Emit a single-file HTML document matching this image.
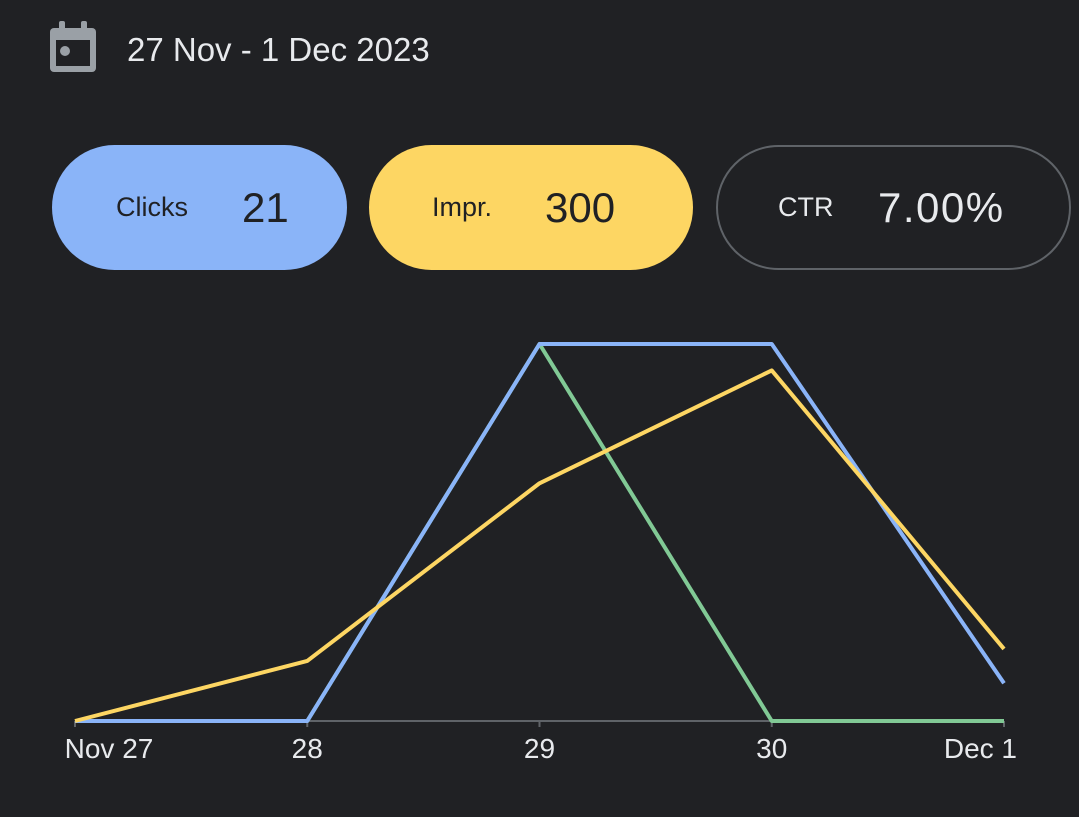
<!DOCTYPE html>
<html><head><meta charset="utf-8"><style>
body{margin:0;width:1079px;height:817px;background:#202124;font-family:"Liberation Sans",sans-serif;overflow:hidden;position:relative;color:#e8eaed}
.hdr{position:absolute;left:127px;top:31px;font-size:33px;color:#e8eaed}
.pill{position:absolute;top:145px;height:125px;border-radius:63px;box-sizing:border-box;display:flex;align-items:center}
.lab{font-size:27px;position:absolute}
.val{font-size:42px;position:absolute}
</style></head><body>
<svg style="position:absolute;left:48px;top:20px" width="52" height="56" viewBox="0 0 52 56">
<rect x="2" y="8" width="46" height="44" rx="4" fill="#9aa0a6"/>
<rect x="8" y="20" width="34" height="26" fill="#202124"/>
<rect x="11" y="1" width="6" height="12" rx="2" fill="#9aa0a6"/>
<rect x="33" y="1" width="6" height="12" rx="2" fill="#9aa0a6"/>
<circle cx="17" cy="31" r="5" fill="#9aa0a6"/>
</svg>
<div class="hdr">27 Nov - 1 Dec 2023</div>
<div class="pill" style="left:52px;width:295px;background:#8ab4f8;color:#202124">
<span class="lab" style="left:64px">Clicks</span><span class="val" style="left:190px">21</span></div>
<div class="pill" style="left:369px;width:324px;background:#fdd663;color:#202124">
<span class="lab" style="left:63px">Impr.</span><span class="val" style="left:176px">300</span></div>
<div class="pill" style="left:716px;width:355px;border:2px solid #5f6368;color:#e8eaed">
<span class="lab" style="left:60px">CTR</span><span class="val" style="left:160px;letter-spacing:1.5px">7.00%</span></div>
<svg id="chart" style="position:absolute;left:0;top:0" width="1079" height="817"></svg>
<script>
const categories=["Nov 27","28","29","30","Dec 1"];
const clicks=[0,0,10,10,1];
const impressions=[0,25,99,146,30];
const ctr=[0,0,10,0,0];
const clicksMax=10, imprMax=157, ctrMax=10;
const svg=document.getElementById('chart');
const NS="http://www.w3.org/2000/svg";
const x0=75,x1=1004,yb=721,yt=344;
const xs=i=>x0+(x1-x0)*i/(categories.length-1);
const ys=(v,m)=>yb-(yb-yt)*v/m;
const axis=document.createElementNS(NS,'line');


axis.setAttribute('x1',x0);axis.setAttribute('x2',x1);axis.setAttribute('y1',yb);axis.setAttribute('y2',yb);
axis.setAttribute('stroke','#5f6368');axis.setAttribute('stroke-width','2');svg.appendChild(axis);
categories.forEach((c,i)=>{
 const t=document.createElementNS(NS,'line');
 
 
 t.setAttribute('x1',xs(i));t.setAttribute('x2',xs(i));t.setAttribute('y1',yb);t.setAttribute('y2',yb+6);
 t.setAttribute('stroke','#5f6368');t.setAttribute('stroke-width','2');svg.appendChild(t);
 const l=document.createElementNS(NS,'text');
 
 
 let a='middle',xx=xs(i);
 if(i==categories.length-1){a='end';xx=xs(i)+13;}
 if(i==0){xx=xs(i)+34;}
 l.setAttribute('x',xx);l.setAttribute('y',758);l.setAttribute('text-anchor',a);
 l.setAttribute('fill','#e8eaed');l.setAttribute('font-size','28');l.setAttribute('font-family','Liberation Sans, sans-serif');
 l.textContent=c;svg.appendChild(l);
});
function series(data,max,color,name){
 const p=document.createElementNS(NS,'polyline');
 
 
 p.setAttribute('points',data.map((v,i)=>xs(i)+','+ys(v,max)).join(' '));
 p.setAttribute('fill','none');p.setAttribute('stroke',color);p.setAttribute('stroke-width','4');p.setAttribute('stroke-linejoin','round');
 svg.appendChild(p);
}
series(ctr,ctrMax,'#81c995','ctr-line');
series(clicks,clicksMax,'#8ab4f8','clicks-line');
series(impressions,imprMax,'#fdd663','impressions-line');
</script>
</body></html>
